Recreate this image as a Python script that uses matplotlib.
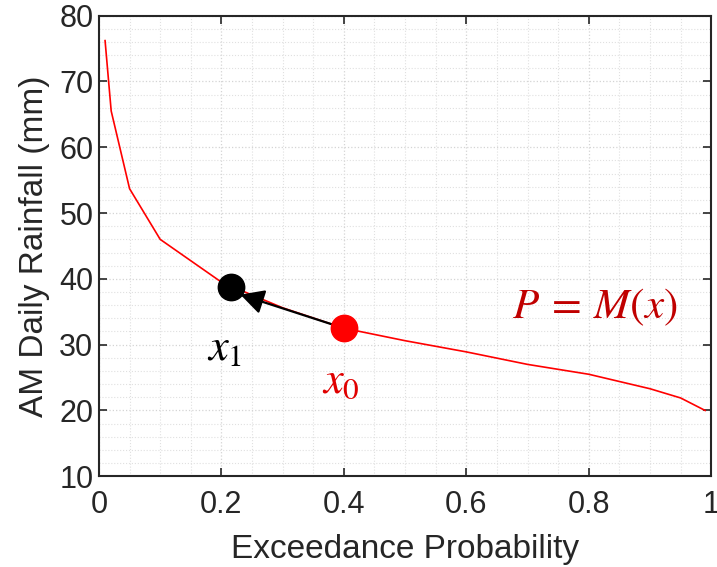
import numpy as np
import matplotlib
matplotlib.use('Agg')
import matplotlib.pyplot as plt
from matplotlib.ticker import MultipleLocator

plt.rcParams['font.family'] = ['Liberation Sans', 'DejaVu Sans']
plt.rcParams['mathtext.fontset'] = 'stix'

# exceedance probability vs AM daily rainfall
prob = [0.01, 0.02, 0.05, 0.1, 0.2, 0.3, 0.4, 0.5, 0.6, 0.7, 0.8, 0.9, 0.95, 0.99]
rain = [76.2, 65.5, 53.7, 46.0, 39.5, 35.6, 32.5, 30.6, 28.9, 27.0, 25.5, 23.3, 21.9, 20.0]

x0_pt = (0.40, 32.5)    # start point (red)
x1_pt = (0.215, 38.8)   # next point (black)
arrow_tip = (0.231, 37.6)

fig = plt.figure(figsize=(7.17, 5.67), dpi=100)
ax = fig.add_axes([0.138, 0.160, 0.854, 0.8125])

ax.plot(prob, rain, color='#ff0000', lw=1.2, zorder=3)

# arrow x0 -> x1
ax.annotate('', xy=arrow_tip, xytext=x0_pt,
            arrowprops=dict(arrowstyle='-|>,head_length=0.8,head_width=0.42',
                            mutation_scale=18, color='black', lw=1.6,
                            shrinkA=0, shrinkB=0), zorder=4)
ax.plot(*x0_pt, 'o', color='#ff0000', ms=19, zorder=5)
ax.plot(*x1_pt, 'o', color='black', ms=19, zorder=5)

ax.text(0.176, 27.6, r'$x_1$', fontsize=32, color='black', ha='left', va='baseline')
ax.text(0.364, 22.7, r'$x_0$', fontsize=32, color='#e00000', ha='left', va='baseline')
ax.text(0.674, 34.0, r'$P\:=\:M(x)$', fontsize=31, color='#c00000', ha='left', va='baseline')

ax.set_xlim(0, 1)
ax.set_ylim(10, 80)
ax.xaxis.set_major_locator(MultipleLocator(0.2))
ax.xaxis.set_minor_locator(MultipleLocator(0.05))
ax.yaxis.set_major_locator(MultipleLocator(10))
ax.yaxis.set_minor_locator(MultipleLocator(2))
ax.set_xticks([0, 0.2, 0.4, 0.6, 0.8, 1])
ax.set_xticklabels(['0', '0.2', '0.4', '0.6', '0.8', '1'])

ax.grid(True, which='major', color='#d4d4d4', ls=':', lw=0.9)
ax.grid(True, which='minor', color='#e0e0e0', ls=':', lw=0.8)
ax.set_axisbelow(True)

ax.tick_params(which='major', direction='in', length=6, width=1.2,
               top=True, right=True, labelsize=22, colors='#262626')
ax.tick_params(axis='x', pad=10)
ax.tick_params(axis='y', pad=4)
ax.tick_params(which='minor', length=0)
for s in ax.spines.values():
    s.set_color('#262626')
    s.set_linewidth(1.5)

ax.set_xlabel('Exceedance Probability', fontsize=24, color='#262626', labelpad=10)
ax.set_ylabel('AM Daily Rainfall (mm)', fontsize=24, color='#262626', labelpad=7)

fig.savefig('out.png', dpi=100)
